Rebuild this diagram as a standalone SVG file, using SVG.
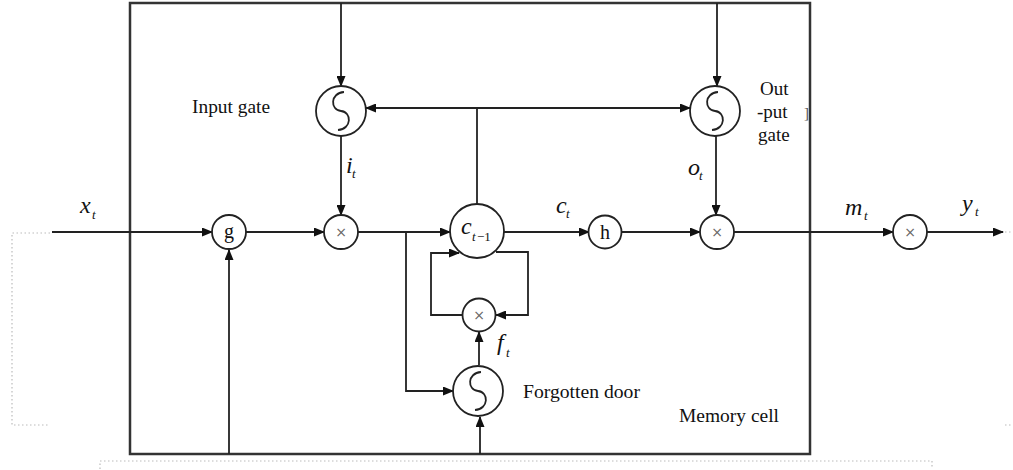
<svg xmlns="http://www.w3.org/2000/svg" width="1013" height="470" viewBox="0 0 1013 470">
<style>
.ln{fill:none;stroke:#222;stroke-width:1.8}
.arr{fill:none;stroke:#222;stroke-width:1.8;marker-end:url(#ah)}
.nd{fill:#fff;stroke:#222;stroke-width:1.8}
.sig{fill:none;stroke:#222;stroke-width:1.8}
.dot{fill:none;stroke:#bbb;stroke-width:1.2;stroke-dasharray:1.5 2.5}
.lbl{font-family:"Liberation Serif","Times New Roman",serif;font-size:19px;fill:#111}
.it{font-family:"Liberation Serif","Times New Roman",serif;font-style:italic;font-size:24px;fill:#111}
.sub{font-family:"Liberation Serif","Times New Roman",serif;font-style:italic;font-size:13px;fill:#111}
.op{font-family:"Liberation Serif","Times New Roman",serif;font-size:20px;fill:#111;text-anchor:middle}
.x{font-family:"DejaVu Sans",sans-serif;font-size:14px;fill:#666;text-anchor:middle}
</style>
<defs>
<marker id="ah" markerWidth="11" markerHeight="9" refX="10" refY="4.5" orient="auto" markerUnits="userSpaceOnUse">
<path d="M0,0 L11,4.5 L0,9 z" fill="#111"/>
</marker>
</defs>
<rect width="1013" height="470" fill="#fff"/>
<g id="decor">
<polyline class="dot" points="50,233 12,233 12,425 48,425"/>
<polyline class="dot" points="100,469 100,461 932,461 932,469"/>
<line class="dot" x1="1005" y1="425" x2="1013" y2="425"/>
<line class="dot" x1="1005" y1="232" x2="1013" y2="232"/>
</g>
<g id="memory-cell">
<rect x="130" y="3" width="680" height="451" fill="none" stroke="#333" stroke-width="2.5"/>
<text class="lbl" x="679" y="422" textLength="100" lengthAdjust="spacingAndGlyphs">Memory cell</text>
<text x="804" y="118" font-family="Liberation Serif,serif" font-size="15" fill="#555">]</text>
</g>
<g id="connectors">
<line class="arr" x1="52" y1="232" x2="212" y2="232"/>
<line class="arr" x1="246" y1="232" x2="324" y2="232"/>
<line class="arr" x1="358" y1="232" x2="450" y2="232"/>
<polyline class="arr" points="406,232 406,391 453,391"/>
<line class="arr" x1="341" y1="3" x2="341" y2="86"/>
<line class="arr" x1="341" y1="136" x2="341" y2="215"/>
<line class="ln" x1="477" y1="204" x2="477" y2="108"/>
<line class="arr" x1="477" y1="108" x2="366" y2="108"/>
<line class="arr" x1="477" y1="108" x2="690" y2="108"/>
<line class="arr" x1="717" y1="3" x2="717" y2="86"/>
<line class="arr" x1="716" y1="136" x2="716" y2="215"/>
<line class="arr" x1="504" y1="232" x2="589" y2="232"/>
<line class="arr" x1="622" y1="232" x2="700" y2="232"/>
<line class="arr" x1="734" y1="232" x2="893" y2="232"/>
<line class="arr" x1="927" y1="232" x2="1003" y2="232"/>
<polyline class="arr" points="463,315 431,315 431,253 459,253"/>
<polyline class="arr" points="496,252 528,252 528,315 496,315"/>
<line class="arr" x1="479" y1="365" x2="479" y2="332"/>
<line class="arr" x1="229" y1="454" x2="229" y2="250"/>
<line class="arr" x1="480" y1="454" x2="480" y2="417"/>
</g>
<g id="input-x">
<text class="it" x="80" y="213">x</text><text class="sub" x="92" y="219">t</text>
</g>
<g id="node-g">
<circle class="nd" cx="229" cy="232" r="17"/>
<text class="op" x="229" y="238">g</text>
</g>
<g id="input-mult">
<circle class="nd" cx="341" cy="232" r="17"/>
<text class="x" x="341" y="237">×</text>
</g>
<g id="input-gate">
<circle class="nd" cx="341" cy="111" r="25"/>
<path class="sig" d="M344,92 C330,93 330,110 341,111 C352,112 352,129 338,130"/>
<text class="lbl" x="192" y="113" textLength="78" lengthAdjust="spacingAndGlyphs">Input gate</text>
<text class="it" x="346" y="173">i</text><text class="sub" x="352" y="178">t</text>
</g>
<g id="cell-state">
<circle class="nd" cx="477" cy="231" r="27"/>
<text class="it" x="461" y="234">c</text>
<text class="sub" x="472" y="241">t</text><text x="477" y="241" font-family="Liberation Serif,serif" font-size="13" fill="#111">−1</text>
<text class="it" x="556" y="213">c</text><text class="sub" x="566" y="218">t</text>
</g>
<g id="node-h">
<circle class="nd" cx="605" cy="232" r="16.5"/>
<text class="op" x="605" y="239">h</text>
</g>
<g id="output-gate">
<circle class="nd" cx="715" cy="111" r="25"/>
<path class="sig" d="M718,92 C704,93 704,110 715,111 C726,112 726,129 712,130"/>
<text class="lbl" x="760" y="95">Out</text>
<text class="lbl" x="757" y="118">-put</text>
<text class="lbl" x="758" y="141">gate</text>
<text class="it" x="688" y="175">o</text><text class="sub" x="699" y="180">t</text>
</g>
<g id="output-mult">
<circle class="nd" cx="717" cy="232" r="17"/>
<text class="x" x="717" y="237">×</text>
</g>
<g id="m-mult">
<circle class="nd" cx="910" cy="232" r="17"/>
<text class="x" x="910" y="237">×</text>
<text class="it" x="845" y="215">m</text><text class="sub" x="864" y="220">t</text>
<text class="it" x="962" y="211">y</text><text class="sub" x="975" y="216">t</text>
</g>
<g id="forget-mult">
<circle class="nd" cx="479" cy="315" r="16.5"/>
<text class="x" x="479" y="320">×</text>
<text class="it" x="497" y="350">f</text><text class="sub" x="506" y="357">t</text>
</g>
<g id="forget-gate">
<circle class="nd" cx="478" cy="391" r="25"/>
<path class="sig" d="M481,372 C467,373 467,390 478,391 C489,392 489,409 475,410"/>
<text class="lbl" x="523" y="398" textLength="117" lengthAdjust="spacingAndGlyphs">Forgotten door</text>
</g>
</svg>
